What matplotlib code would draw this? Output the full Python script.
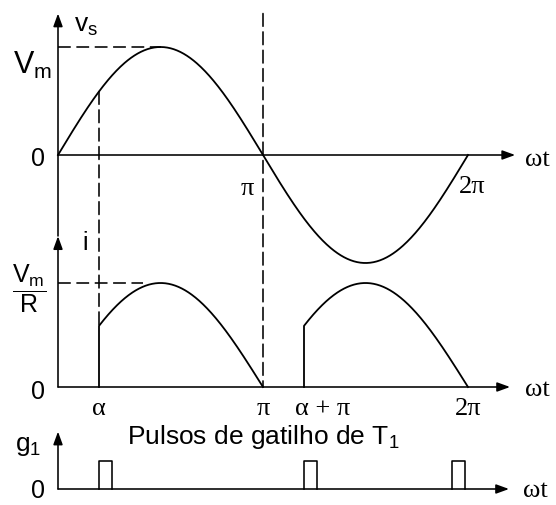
import numpy as np
import matplotlib.pyplot as plt
from matplotlib.patches import ConnectionPatch

plt.rcParams['font.family'] = 'Liberation Sans'
plt.rcParams['mathtext.fontset'] = 'custom'
plt.rcParams['mathtext.rm'] = 'Liberation Sans'
plt.rcParams['mathtext.it'] = 'Liberation Sans'
plt.rcParams['mathtext.default'] = 'regular'

pi = np.pi

# source voltage and load current, normalised (Vm = 1, Vm/R = 1)
v_peak = 1.0
i_peak = 1.0
alpha = 0.2 * pi                                  # firing angle
conduction = [(alpha, pi), (alpha + pi, 2 * pi)]  # intervals where T conducts
pulse_angles = [alpha, alpha + pi, 1.92 * pi]     # gate pulses of T1
pulse_width = 0.065 * pi
pulse_height = 1.0

tick_angles = [alpha, pi, alpha + pi, 2 * pi]
tick_labels = ['\u03b1', '\u03c0', '\u03b1 + \u03c0', '2\u03c0']

SERIF = 'Liberation Serif'
LW = 1.15
DASH = (0, (8, 3.5))
GREEK = 19

fig = plt.figure(figsize=(5.56, 5.06), dpi=100)
W, H = 556, 506
x0, px_per_rad = 58, 205 / pi


def panel(zero_px, unit_px):
    # every panel spans the whole figure; only the vertical scaling differs
    ax = fig.add_axes([0, 0, 1, 1])
    ax.set_xlim(-x0 / px_per_rad, (W - x0) / px_per_rad)
    ax.set_ylim((zero_px - H) / unit_px, zero_px / unit_px)
    ax.axis('off')
    return ax


def arrow(ax, start, end):
    ax.annotate('', xy=end, xytext=start,
                arrowprops=dict(arrowstyle='-|>,head_length=0.55,head_width=0.2',
                                mutation_scale=14, lw=LW, color='k',
                                shrinkA=0, shrinkB=0))


ax_v = panel(156, 108)
ax_i = panel(388, 104)
ax_g = panel(490, 28)

# --- supply voltage v_s ---
theta = np.linspace(0, 2 * pi, 500)
ax_v.plot(theta, v_peak * np.sin(theta), color='k', lw=1.3)
arrow(ax_v, (0, 0), (2.23 * pi, 0))
arrow(ax_v, (0, -0.75), (0, 1.31))
ax_v.plot([0, pi / 2], [v_peak, v_peak], color='k', lw=LW, ls=DASH)

ax_v.text(-0.125 * pi, 0.84 * v_peak, '$V_m$', fontsize=22, ha='center', va='center')
ax_v.text(-0.098 * pi, -0.03, '0', fontsize=18, ha='center', va='center')
ax_v.text(0.135 * pi, 1.2, '$v_s$', fontsize=19, ha='center', va='center')
ax_v.text(0.925 * pi, -0.31, '\u03c0', fontsize=GREEK, family=SERIF, ha='center', va='center')
ax_v.text(2.02 * pi, -0.29, '2\u03c0', fontsize=GREEK, family=SERIF, ha='center', va='center')
ax_v.text(2.34 * pi, -0.04, '\u03c9t', fontsize=GREEK, family=SERIF, ha='center', va='center')

# --- load current i ---
for a, b in conduction:
    th = np.linspace(a, b, 300)
    ax_i.plot(np.r_[a, th], np.r_[0, i_peak * np.abs(np.sin(th))], color='k', lw=1.3)
arrow(ax_i, (0, 0), (2.205 * pi, 0))
arrow(ax_i, (0, 0), (0, 1.45))
ax_i.plot([0, 0.415 * pi], [i_peak, i_peak], color='k', lw=LW, ls=DASH)

ax_i.text(-0.14 * pi, i_peak - 0.05, r'$\dfrac{V_m}{R}$', fontsize=18, ha='center', va='center')
ax_i.text(-0.098 * pi, -0.04, '0', fontsize=18, ha='center', va='center')
ax_i.text(0.13 * pi, 1.39, 'i', fontsize=18, ha='center', va='center')
for ang, lab in zip(tick_angles, tick_labels):
    dx = 19 if lab.startswith('\u03b1 +') else 0
    ax_i.annotate(lab, (ang, -0.2), xytext=(dx * 0.72, 0), textcoords='offset points',
                  fontsize=GREEK, family=SERIF, ha='center', va='center')
ax_i.text(2.34 * pi, -0.02, '\u03c9t', fontsize=GREEK, family=SERIF, ha='center', va='center')

# dashed guides through both panels
for xa, ya, yb in [(alpha, v_peak * np.sin(alpha), i_peak * np.sin(alpha)),
                   (pi, 1.31, 0)]:
    fig.add_artist(ConnectionPatch(xyA=(xa, ya), coordsA=ax_v.transData,
                                   xyB=(xa, yb), coordsB=ax_i.transData,
                                   color='k', lw=LW, ls=DASH))

# --- gate pulses g1 ---
arrow(ax_g, (0, 0), (2.2 * pi, 0))
arrow(ax_g, (0, 0), (0, 2.05))
for p in pulse_angles:
    ax_g.plot([p, p, p + pulse_width, p + pulse_width],
              [0, pulse_height, pulse_height, 0], color='k', lw=LW)

ax_g.text(-0.147 * pi, 1.57, '$g_1$', fontsize=19, ha='center', va='center')
ax_g.text(-0.098 * pi, -0.02, '0', fontsize=18, ha='center', va='center')
ax_g.text(0.338 * pi, 1.89, 'Pulsos de gatilho de $T_1$', fontsize=19, ha='left', va='center')
ax_g.text(2.33 * pi, -0.05, '\u03c9t', fontsize=GREEK, family=SERIF, ha='center', va='center')

fig.savefig('out.png', dpi=100, facecolor='white')
